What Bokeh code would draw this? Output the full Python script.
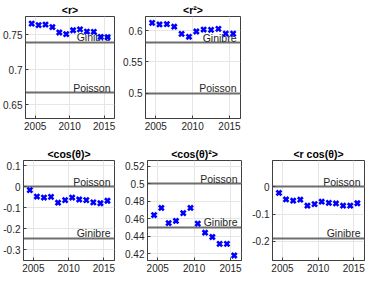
from bokeh.plotting import figure
from bokeh.layouts import column, row
from bokeh.models import FixedTicker, Range1d
from bokeh.core.properties import value
from bokeh.embed import file_html
from bokeh.resources import INLINE

# ---- data ----
years = [2004.5, 2005.5, 2006.5, 2007.5, 2008.5, 2009.5,
         2010.5, 2011.5, 2012.5, 2013.5, 2014.5, 2015.5]
x_ticks = [2005, 2010, 2015]
x_tick_labels = ["2005", "2010", "2015"]

titles = ["<r>", "<r²>", "<cos(θ)>", "<cos(θ)²>", "<r cos(θ)>"]

r_mean = [0.7658, 0.7636, 0.7645, 0.7609, 0.7531, 0.7508,
          0.7563, 0.7576, 0.7545, 0.7541, 0.7467, 0.7463]
r2_mean = [0.6127, 0.6102, 0.6107, 0.6066, 0.5950, 0.5904,
           0.5989, 0.6020, 0.6015, 0.6031, 0.5954, 0.5954]
cos_mean = [-0.0154, -0.0460, -0.0508, -0.0477, -0.0754, -0.0630,
            -0.0508, -0.0600, -0.0630, -0.0740, -0.0780, -0.0660]
cos2_mean = [0.4641, 0.4722, 0.4550, 0.4574, 0.4663, 0.4722,
             0.4544, 0.4440, 0.4391, 0.4313, 0.4313, 0.4180]
rcos_mean = [-0.0220, -0.0460, -0.0506, -0.0470, -0.0691, -0.0631,
             -0.0543, -0.0584, -0.0607, -0.0691, -0.0691, -0.0600]

ginibre = [0.7395, 0.5806, -0.2446, 0.4504, -0.1890]
poisson = [0.6667, 0.5000, 0.0000, 0.5000, 0.0000]
ref_names = ["Ginibre", "Poisson"]

y_ranges = [(0.630, 0.776), (0.459, 0.623), (-0.351, 0.126),
            (0.4123, 0.5263), (-0.271, 0.0976)]
y_ticks = [[0.65, 0.7, 0.75],
           [0.5, 0.55, 0.6],
           [-0.3, -0.2, -0.1, 0, 0.1],
           [0.42, 0.44, 0.46, 0.48, 0.5, 0.52],
           [-0.2, -0.1, 0]]
y_tick_labels = [["0.65", "0.7", "0.75"],
                 ["0.5", "0.55", "0.6"],
                 ["-0.3", "-0.2", "-0.1", "0", "0.1"],
                 ["0.42", "0.44", "0.46", "0.48", "0.5", "0.52"],
                 ["-0.2", "-0.1", "0"]]
series = [r_mean, r2_mean, cos_mean, cos2_mean, rcos_mean]

x_range = (2003.6, 2016.5)

FONT = "Liberation Sans"
DARK = "#262626"

# layout geometry: (width, left, right, height, top, bottom)
geom = [
    (120, 21, 6, 142, 14, 24),
    (122, 23, 2, 142, 14, 24),
    (120, 21, 6, 134, 18, 16),
    (129, 27, 8, 134, 18, 16),
    (116, 21, 1, 134, 18, 16),
]


def panel(i):
    w, l, r, h, t, b = geom[i]
    p = figure(width=w, height=h, output_backend="svg", toolbar_location=None,
               x_range=Range1d(*x_range), y_range=Range1d(*y_ranges[i]),
               min_border_left=l, min_border_right=r,
               min_border_top=t, min_border_bottom=b)
    p.title.text = titles[i]
    p.title.align = "center"
    p.title.text_font = FONT
    p.title.text_font_size = "10.5px"
    p.title.text_font_style = "bold"
    p.title.text_color = "#000000"
    p.title.standoff = 2
    p.title.offset = 0

    p.outline_line_color = "#404040"
    p.outline_line_width = 1
    p.background_fill_color = "white"
    p.border_fill_color = "white"

    for ax in (p.xaxis[0], p.yaxis[0]):
        ax.axis_line_color = "#404040"
        ax.major_tick_in = 3
        ax.major_tick_out = 0
        ax.major_tick_line_color = "#404040"
        ax.minor_tick_line_color = None
        ax.major_label_text_font = FONT
        ax.major_label_text_font_size = "10px"
        ax.major_label_text_color = DARK
        ax.major_label_standoff = 3

    p.xaxis[0].ticker = FixedTicker(ticks=x_ticks)
    p.xaxis[0].major_label_overrides = {float(k): v for k, v in zip(x_ticks, x_tick_labels)}
    p.yaxis[0].ticker = FixedTicker(ticks=y_ticks[i])
    p.yaxis[0].major_label_overrides = {float(k): v for k, v in zip(y_ticks[i], y_tick_labels[i])}

    p.xgrid.grid_line_color = "#e6e6e6"
    p.ygrid.grid_line_color = "#e6e6e6"
    p.xgrid.grid_line_width = 1
    p.ygrid.grid_line_width = 1

    refs = [ginibre[i], poisson[i]]
    p.hspan(y=refs, line_color="#6e6e6e", line_width=2)
    p.text(x=[x_range[1], x_range[1]], y=refs, text=ref_names,
           x_offset=-4, y_offset=-5, text_align="right",
           text_baseline="alphabetic", text_font=value(FONT),
           text_font_size="10.5px", text_color=DARK)

    p.scatter(years, series[i], marker="x", size=7,
              line_color="#0000ff", line_width=2.6)
    return p


figs = [panel(i) for i in range(5)]
layout = column(row(figs[0], figs[1]), row(figs[2], figs[3], figs[4]))

open("out.html", "w").write(file_html(layout, INLINE))
